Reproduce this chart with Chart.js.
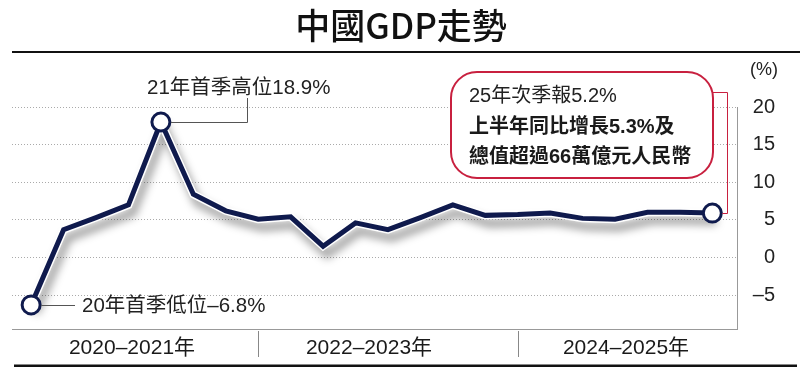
<!DOCTYPE html>
<html><head><meta charset="utf-8">
<script src="https://cdn.jsdelivr.net/npm/chart.js@4.4.0/dist/chart.umd.min.js"></script>
<style>html,body{margin:0;padding:0;background:#fff;}canvas{display:block;}</style>
</head><body>
<canvas id="c" width="800" height="374"></canvas>
<script>
// ---- data ----
const quarters = ['2020Q1','2020Q2','2020Q3','2020Q4','2021Q1','2021Q2','2021Q3','2021Q4',
  '2022Q1','2022Q2','2022Q3','2022Q4','2023Q1','2023Q2','2023Q3','2023Q4',
  '2024Q1','2024Q2','2024Q3','2024Q4','2025Q1','2025Q2'];
const gdpGrowth = [-6.3, 3.7, 5.3, 7.0, 18.0, 8.4, 6.2, 5.1, 5.4, 1.5, 4.6, 3.7,
  5.3, 7.0, 5.6, 5.7, 5.9, 5.2, 5.1, 6.0, 6.0, 5.9];
const yTicks = [-5, 0, 5, 10, 15, 20];
const periodLabels = ['2020–2021年', '2022–2023年', '2024–2025年'];
const periodEndQuarters = ['2021Q4', '2023Q4'];
const highlightQuarters = ['2020Q1', '2021Q1', '2025Q2'];
const titleText = '中國GDP走勢';
const unitText = '(%)';
const lowNote = '20年首季低位–6.8%';
const peakNote = '21年首季高位18.9%';
const latestNote = ['25年次季報5.2%', '上半年同比增長5.3%及', '總值超過66萬億元人民幣'];

// ---- chart ----
const FONT = '"Liberation Sans", "Noto Sans CJK TC", sans-serif';
const NAVY = '#0f1a4d';
const points = quarters.map((q, i) => ({ x: i, y: gdpGrowth[i] }));
const hlIdx = highlightQuarters.map(q => quarters.indexOf(q));

const shadowPlugin = {
  id: 'shadow',
  beforeDatasetDraw(chart, args) {
    if (args.index === 1) {
      const c = chart.ctx; c.save();
      c.shadowColor = 'rgba(0,0,0,0.38)'; c.shadowBlur = 8;
      c.shadowOffsetX = 4; c.shadowOffsetY = 8;
    }
  },
  afterDatasetDraw(chart, args) { if (args.index === 1) chart.ctx.restore(); }
};

const decor = {
  id: 'decor',
  afterDraw(chart) {
    const { ctx, scales: { x, y } } = chart;
    ctx.save();
    // title & rules
    ctx.fillStyle = '#111';
    ctx.font = '500 35px "Noto Sans CJK TC", sans-serif';
    ctx.textAlign = 'center'; ctx.textBaseline = 'middle';
    ctx.fillText(titleText, 401, 26);
    ctx.fillRect(12, 51, 788, 2);
    ctx.fillRect(14, 364.5, 783, 2.5);
    // unit
    ctx.font = '18px ' + FONT; ctx.fillStyle = '#222';
    ctx.fillText(unitText, 764, 70);
    // period separators and labels
    ctx.strokeStyle = '#888'; ctx.lineWidth = 1;
    periodEndQuarters.forEach(q => {
      const px = Math.round(x.getPixelForValue(quarters.indexOf(q))) + 0.5;
      ctx.beginPath(); ctx.moveTo(px, 331); ctx.lineTo(px, 357); ctx.stroke();
    });
    ctx.font = '21px ' + FONT; ctx.fillStyle = '#1a1a1a';
    const labelX = [132, 369, 626];
    periodLabels.forEach((t, i) => ctx.fillText(t, labelX[i], 348));

    const pt = q => { const i = quarters.indexOf(q); return { x: x.getPixelForValue(i), y: y.getPixelForValue(gdpGrowth[i]) }; };
    // low note
    let p = pt('2020Q1');
    ctx.strokeStyle = '#555'; ctx.lineWidth = 1;
    ctx.beginPath(); ctx.moveTo(p.x + 10, Math.round(p.y) + 0.5); ctx.lineTo(75, Math.round(p.y) + 0.5); ctx.stroke();
    ctx.textAlign = 'left'; ctx.fillStyle = '#222'; ctx.font = '20.5px ' + FONT;
    ctx.fillText(lowNote, 82, p.y + 1);
    // peak note
    p = pt('2021Q1');
    ctx.beginPath(); ctx.moveTo(p.x + 10, Math.round(p.y) + 0.5); ctx.lineTo(247.5, Math.round(p.y) + 0.5); ctx.lineTo(247.5, 98); ctx.stroke();
    ctx.fillText(peakNote, 147, 88);
    // latest box
    p = pt('2025Q2');
    ctx.strokeStyle = '#c8203f'; ctx.lineWidth = 1;
    ctx.beginPath(); ctx.moveTo(713, 92.5); ctx.lineTo(727.5, 92.5); ctx.lineTo(727.5, Math.round(p.y) + 0.5); ctx.lineTo(p.x + 10, Math.round(p.y) + 0.5); ctx.stroke();
    ctx.beginPath();
    ctx.roundRect(451, 72, 262, 106, 26);
    ctx.fillStyle = '#fff'; ctx.fill();
    ctx.lineWidth = 2; ctx.stroke();
    ctx.fillStyle = '#222'; ctx.font = '20px ' + FONT;
    ctx.fillText(latestNote[0], 469, 96);
    ctx.font = 'bold 20px ' + FONT; ctx.fillStyle = '#1a1a1a';
    ctx.fillText(latestNote[1], 469, 127);
    ctx.fillText(latestNote[2], 469, 157);
    ctx.restore();
  }
};

new Chart(document.getElementById('c'), {
  type: 'line',
  data: {
    datasets: [
      { data: points, borderColor: NAVY, borderWidth: 5, borderJoinStyle: 'miter', tension: 0, order: 1,
        pointRadius: c => hlIdx.includes(c.dataIndex) ? 9 : 0,
        pointBackgroundColor: '#fff', pointBorderColor: NAVY, pointBorderWidth: 3, clip: false },
      { data: points, borderColor: '#fff', borderWidth: 8, borderJoinStyle: 'miter', tension: 0, order: 2,
        pointRadius: 0, clip: false }
    ]
  },
  options: {
    responsive: false, animation: false,
    layout: { padding: { left: 5, top: 107, right: 25, bottom: 45 } },
    plugins: { legend: { display: false }, tooltip: { enabled: false } },
    scales: {
      x: { type: 'linear', min: -0.59, max: 21.76,
        grid: { display: false, drawTicks: false }, ticks: { display: false },
        border: { display: true, color: '#999', width: 1 },
        afterFit: s => { s.height = 0; } },
      y: { position: 'right', min: -9.5, max: 20,
        afterBuildTicks: s => { s.ticks = yTicks.map(v => ({ value: v })); },
        grid: { color: '#aaa', lineWidth: 1, drawTicks: false },
        border: { display: true, color: '#999', width: 1, dash: [1, 2] },
        ticks: { font: { family: FONT, size: 20 }, color: '#222', padding: 8, crossAlign: 'far',
          callback: v => v < 0 ? '–' + Math.abs(v) : String(v) },
        afterFit: s => { s.width = 38; } }
    }
  },
  plugins: [shadowPlugin, decor]
});
</script>
</body></html>
